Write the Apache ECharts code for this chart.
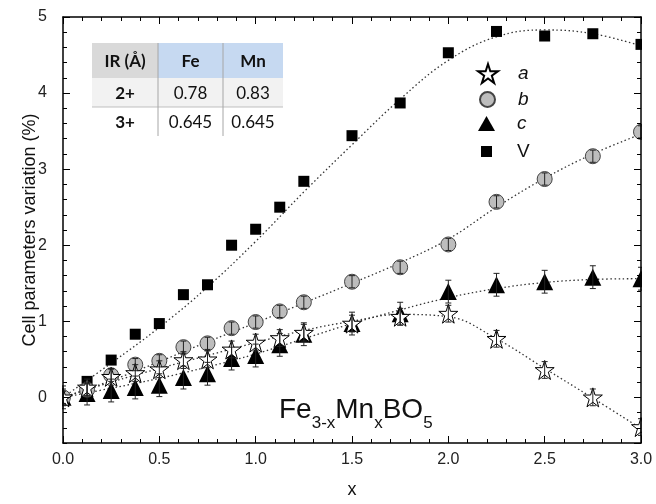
<!DOCTYPE html>
<html>
<head>
<meta charset="utf-8">
<script src="https://cdn.jsdelivr.net/npm/echarts@6/dist/echarts.min.js"></script>
<style>
html, body { margin: 0; padding: 0; background: #fff; }
#chart { width: 656px; height: 504px; }
</style>
</head>
<body>
<div id="chart"></div>
<script>
// measured points (x = Mn content)
var xValues = [0, 0.125, 0.25, 0.375, 0.5, 0.625, 0.75, 0.875, 1.0, 1.125, 1.25, 1.5, 1.75, 2.0, 2.25, 2.5, 2.75, 3.0];
var aValues = [0, 0.13, 0.27, 0.32, 0.37, 0.49, 0.50, 0.63, 0.72, 0.78, 0.85, 0.97, 1.06, 1.10, 0.77, 0.36, 0.00, -0.39];
var bValues = [0, 0.10, 0.29, 0.43, 0.48, 0.66, 0.71, 0.91, 0.99, 1.13, 1.25, 1.52, 1.71, 2.01, 2.57, 2.87, 3.17, 3.49];
var cValues = [0, 0.05, 0.09, 0.13, 0.16, 0.26, 0.31, 0.51, 0.55, 0.69, 0.83, 0.97, 1.10, 1.39, 1.48, 1.52, 1.58, 1.56];
var vValues = [0, 0.21, 0.49, 0.83, 0.97, 1.35, 1.48, 2.00, 2.21, 2.50, 2.84, 3.44, 3.87, 4.53, 4.81, 4.75, 4.78, 4.64];
// error bars
var aErr = [0.11, 0.11, 0.11, 0.11, 0.11, 0.11, 0.11, 0.11, 0.11, 0.11, 0.11, 0.11, 0.11, 0.11, 0.11, 0.11, 0.11, 0.11];
var bErr = [0.08, 0.08, 0.08, 0.08, 0.08, 0.08, 0.08, 0.08, 0.08, 0.08, 0.08, 0.08, 0.08, 0.08, 0.08, 0.08, 0.08, 0.08];
var cErr = [0.15, 0.15, 0.15, 0.15, 0.15, 0.15, 0.15, 0.15, 0.15, 0.15, 0.15, 0.15, 0.15, 0.15, 0.15, 0.15, 0.15, 0.15];

// dotted fit curves
var fitX = [0, 0.25, 0.5, 0.75, 1.0, 1.25, 1.5, 1.75, 2.0, 2.25, 2.5, 2.75, 3.0];
var fitA = [0, 0.20, 0.38, 0.55, 0.72, 0.88, 1.00, 1.09, 1.06, 0.77, 0.38, -0.01, -0.41];
var fitB = [0, 0.22, 0.47, 0.73, 0.98, 1.24, 1.50, 1.77, 2.08, 2.50, 2.88, 3.20, 3.46];
var fitC = [0, 0.12, 0.25, 0.40, 0.57, 0.77, 0.97, 1.15, 1.31, 1.43, 1.51, 1.55, 1.56];
var fitV = [0, 0.45, 0.92, 1.45, 2.05, 2.70, 3.32, 3.92, 4.43, 4.74, 4.83, 4.78, 4.62];

var xTicks = { min: 0, max: 3, interval: 0.5 };
var yRange = { min: -0.6, max: 5 };

// inset table
var tableHeader = ["IR (Å)", "Fe", "Mn"];
var tableRows = [["2+", "0.78", "0.83"], ["3+", "0.645", "0.645"]];

var FONT = "Liberation Sans, Arial, sans-serif";
var TFONT = "Lato, 'Open Sans', sans-serif";
var STAR = "path://M50,2 L61,36 L97,36 L68,57 L79,92 L50,70 L21,92 L32,57 L3,36 L39,36 Z";

function pairs (xs, ys) {
    return xs.map(function (x, i) { return [x, ys[i]]; });
}
function triples (xs, ys, es) {
    return xs.map(function (x, i) { return [x, ys[i], es[i]]; });
}

function errorBar (params, api) {
    var x = api.value(0), y = api.value(1), e = api.value(2);
    var top = api.coord([x, y + e]);
    var bot = api.coord([x, y - e]);
    var cap = 3;
    var st = { stroke: "#222", lineWidth: 1 };
    return {
        type: "group",
        children: [
            { type: "line", shape: { x1: top[0], y1: top[1], x2: bot[0], y2: bot[1] }, style: st },
            { type: "line", shape: { x1: top[0] - cap, y1: top[1], x2: top[0] + cap, y2: top[1] }, style: st },
            { type: "line", shape: { x1: bot[0] - cap, y1: bot[1], x2: bot[0] + cap, y2: bot[1] }, style: st }
        ]
    };
}

function fitSeries (name, ys) {
    return {
        name: name,
        type: "line",
        data: pairs(fitX, ys),
        smooth: 0.4,
        symbol: "none",
        silent: true,
        lineStyle: { color: "#333", width: 1.3, type: [1.5, 2.6] },
        z: 2
    };
}

function tableGraphic () {
    var colX = [92, 158, 223, 283];
    var rowY = [43, 78, 107, 136];
    var els = [];
    els.push({ type: "rect", shape: { x: colX[0], y: rowY[0], width: colX[1] - colX[0], height: rowY[1] - rowY[0] }, style: { fill: "#d9d9d9" } });
    els.push({ type: "rect", shape: { x: colX[1], y: rowY[0], width: colX[3] - colX[1], height: rowY[1] - rowY[0] }, style: { fill: "#c6d9f1" } });
    els.push({ type: "rect", shape: { x: colX[0], y: rowY[1], width: colX[3] - colX[0], height: rowY[2] - rowY[1] }, style: { fill: "#f2f2f2" } });
    els.push({ type: "rect", shape: { x: colX[0], y: rowY[2], width: colX[3] - colX[0], height: rowY[3] - rowY[2] }, style: { fill: "#ffffff" } });
    // grid lines
    els.push({ type: "line", shape: { x1: colX[0], y1: rowY[2], x2: colX[3], y2: rowY[2] }, style: { stroke: "#bfbfbf", lineWidth: 1 } });
    els.push({ type: "line", shape: { x1: colX[1], y1: rowY[0], x2: colX[1], y2: rowY[3] }, style: { stroke: "#a6a6a6", lineWidth: 1 } });
    els.push({ type: "line", shape: { x1: colX[2], y1: rowY[0], x2: colX[2], y2: rowY[3] }, style: { stroke: "#a6a6a6", lineWidth: 1 } });
    var rows = [tableHeader].concat(tableRows);
    rows.forEach(function (row, r) {
        row.forEach(function (txt, c) {
            els.push({
                type: "text",
                x: (colX[c] + colX[c + 1]) / 2,
                y: (rowY[r] + rowY[r + 1]) / 2 + 1,
                style: {
                    text: txt,
                    align: "center",
                    verticalAlign: "middle",
                    fill: "#111",
                    font: ((r === 0 || c === 0) ? "bold " : "") + "17px " + TFONT
                }
            });
        });
    });
    els.forEach(function (e) { e.z = 100; });
    return els;
}

var axisLine = { show: true, onZero: false, lineStyle: { color: "#000", width: 1.5 } };

var chart = echarts.init(document.getElementById("chart"));
var option = {
    animation: false,
    backgroundColor: "#fff",
    grid: { left: 63, right: 15, top: 17, bottom: 56 },
    legend: [
        { data: ["a"], left: 477, top: 63, itemWidth: 20, itemHeight: 20, padding: 0, selectedMode: false,
          textStyle: { fontFamily: FONT, fontSize: 19, fontStyle: "italic", color: "#111", padding: [0, 0, 0, 15] } },
        { data: ["b"], left: 479, top: 90, itemWidth: 15, itemHeight: 15, padding: 0, selectedMode: false,
          textStyle: { fontFamily: FONT, fontSize: 19, fontStyle: "italic", color: "#111", padding: [0, 0, 0, 18] } },
        { data: ["c"], left: 478, top: 114, itemWidth: 17, itemHeight: 15, padding: 0, selectedMode: false,
          textStyle: { fontFamily: FONT, fontSize: 19, fontStyle: "italic", color: "#111", padding: [0, 0, 0, 17] } },
        { data: ["V"], left: 481, top: 142, itemWidth: 11, itemHeight: 11, padding: 0, selectedMode: false,
          textStyle: { fontFamily: FONT, fontSize: 19, color: "#111", padding: [0, 0, 0, 20] } }
    ],
    xAxis: [
        {
            type: "value", position: "bottom", min: xTicks.min, max: xTicks.max, interval: xTicks.interval, z: 10,
            axisLine: axisLine,
            axisTick: { inside: true, length: 7, lineStyle: { color: "#000", width: 1 } },
            minorTick: { show: true, splitNumber: 5, length: 4, lineStyle: { color: "#000", width: 1 } },
            splitLine: { show: false },
            axisLabel: { fontFamily: FONT, fontSize: 16, color: "#222", margin: 9,
                formatter: function (v) { return v.toFixed(1); } },
            name: "x", nameLocation: "middle", nameGap: 38, nameMoveOverlap: false,
            nameTextStyle: { fontFamily: FONT, fontSize: 18, color: "#111" }
        },
        {
            type: "value", position: "top", min: xTicks.min, max: xTicks.max, interval: xTicks.interval, z: 10,
            axisLine: axisLine,
            axisTick: { inside: true, length: 7, lineStyle: { color: "#000", width: 1 } },
            minorTick: { show: true, splitNumber: 5, length: 4, lineStyle: { color: "#000", width: 1 } },
            splitLine: { show: false },
            axisLabel: { show: false }
        }
    ],
    yAxis: [
        {   // minor ticks, left
            type: "value", position: "left", min: yRange.min, max: yRange.max, interval: 0.2, z: 10,
            axisLine: axisLine,
            axisTick: { inside: true, length: 4, lineStyle: { color: "#000", width: 1 } },
            splitLine: { show: false },
            axisLabel: { show: false }
        },
        {   // major ticks + labels, left
            type: "value", position: "left", min: yRange.min, max: yRange.max, z: 10,
            axisLine: { show: false, onZero: false },
            axisTick: { inside: true, length: 7, lineStyle: { color: "#000", width: 1 } },
            splitLine: { show: false },
            axisLabel: { fontFamily: FONT, fontSize: 16, color: "#222", margin: 16, showMinLabel: false },
            name: "Cell parameters variation (%)", nameLocation: "middle", nameGap: 24, nameMoveOverlap: false,
            nameTextStyle: { fontFamily: FONT, fontSize: 18, color: "#111" }
        },
        {   // minor ticks, right
            type: "value", position: "right", min: yRange.min, max: yRange.max, interval: 0.2, z: 10,
            axisLine: axisLine,
            axisTick: { inside: true, length: 4, lineStyle: { color: "#000", width: 1 } },
            splitLine: { show: false },
            axisLabel: { show: false }
        },
        {   // major ticks, right
            type: "value", position: "right", min: yRange.min, max: yRange.max, z: 10,
            axisLine: { show: false, onZero: false },
            axisTick: { inside: true, length: 7, lineStyle: { color: "#000", width: 1 } },
            splitLine: { show: false },
            axisLabel: { show: false }
        }
    ],
    graphic: [
        // hide the half of the edge markers that falls outside the frame
        { type: "rect", z: 5, silent: true, shape: { x: 0, y: 0, width: 62, height: 504 }, style: { fill: "#fff" } },
        { type: "rect", z: 5, silent: true, shape: { x: 642, y: 0, width: 14, height: 504 }, style: { fill: "#fff" } },
        {
            type: "text", x: 279, y: 388, z: 20,
            style: {
                text: "{n|Fe}{s|3-x}{n|Mn}{s|x}{n|BO}{s|5}",
                rich: {
                    n: { fontFamily: FONT, fontSize: 28, fill: "#111", lineHeight: 44 },
                    s: { fontFamily: FONT, fontSize: 17, fill: "#111", lineHeight: 18, padding: [26, 0, 0, 0] }
                }
            }
        }
    ].concat(tableGraphic()),
    series: [
        fitSeries("fitA", fitA),
        fitSeries("fitB", fitB),
        fitSeries("fitC", fitC),
        fitSeries("fitV", fitV),
        { name: "V", type: "scatter", data: pairs(xValues, vValues), symbol: "rect", symbolSize: 11,
          itemStyle: { color: "#000", opacity: 1 }, z: 3 },
        { name: "c", type: "scatter", data: pairs(xValues, cValues), symbol: "triangle", symbolSize: 17,
          itemStyle: { color: "#000", opacity: 1 }, z: 3 },
        { name: "b", type: "scatter", data: pairs(xValues, bValues), symbol: "circle", symbolSize: 15,
          itemStyle: { color: "#bdbdbd", borderColor: "#444", borderWidth: 1, opacity: 1 }, z: 3 },
        { name: "a", type: "scatter", data: pairs(xValues, aValues), symbol: STAR, symbolSize: 19,
          itemStyle: { color: "#fff", borderColor: "#000", borderWidth: 1, opacity: 1 }, z: 3 },
        { name: "errA", type: "custom", data: triples(xValues, aValues, aErr), renderItem: errorBar, silent: true, z: 4 },
        { name: "errB", type: "custom", data: triples(xValues, bValues, bErr), renderItem: errorBar, silent: true, z: 4 },
        { name: "errC", type: "custom", data: triples(xValues, cValues, cErr), renderItem: errorBar, silent: true, z: 4 }
    ]
};
chart.setOption(option);
</script>
</body>
</html>
